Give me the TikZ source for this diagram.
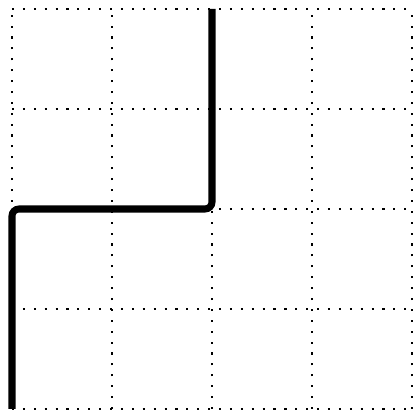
\documentclass[tikz,border=0pt]{standalone}
\begin{document}
\begin{tikzpicture}[gridline/.style={line width=0.6pt,dash pattern=on 0.6pt off 2.5pt},
	walk/.style={line width=2pt,rounded corners=2pt}]
	\useasboundingbox (-0.12,-0.11) rectangle (4.08,4.09);
	\foreach \i in {0,...,4}{
		\draw[gridline] (\i,0) -- (\i,4);
		\draw[gridline] (0,\i) -- (4,\i);
	}
	\coordinate (start) at (0,0);
	\coordinate (turnA) at (0,2);
	\coordinate (turnB) at (2,2);
	\coordinate (finish) at (2,4);
	\draw[walk] (start) -- (turnA) -- (turnB) -- (finish);
\end{tikzpicture}
\end{document}
